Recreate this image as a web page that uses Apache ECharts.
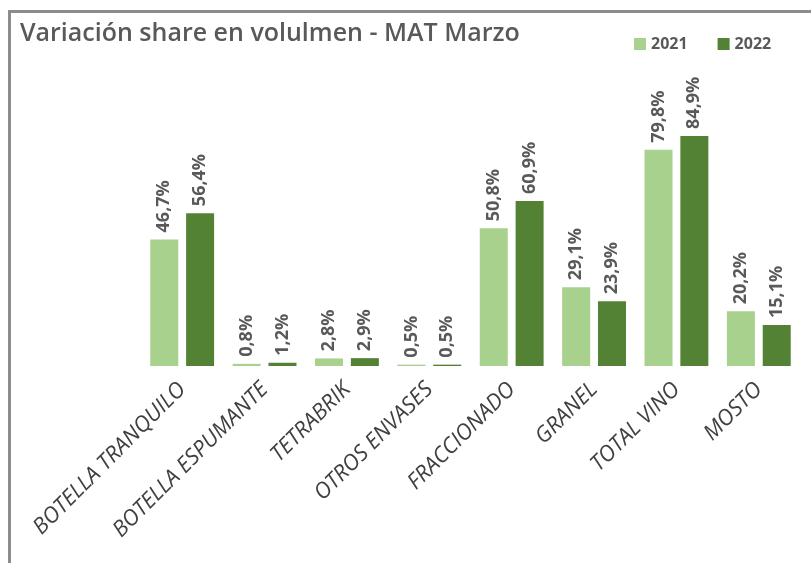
<!DOCTYPE html>
<html>

<head>
    <meta charset="utf-8">
    <title>ECharts</title>
    <script src="https://cdn.jsdelivr.net/npm/echarts@6/dist/echarts.min.js"></script>
    <style>
        body { margin: 0; background: #fff; }
        #frame {
            position: absolute; left: 8px; top: 10px; width: 803px; height: 553px;
            border-left: 3px solid #8c8c8c; border-top: 3px solid #8c8c8c;
        }
    </style>
</head>

<body>
    <div id="frame"></div>
    <div id="main" style="position:absolute;left:0;top:0;width: 811px;height:563px;"></div>
    <script type="text/javascript">
        // datos
        let categorias = ['BOTELLA TRANQUILO', 'BOTELLA ESPUMANTE', 'TETRABRIK', 'OTROS ENVASES',
            'FRACCIONADO', 'GRANEL', 'TOTAL VINO', 'MOSTO']
        let valores2021 = [46.7, 0.8, 2.8, 0.5, 50.8, 29.1, 79.8, 20.2]
        let valores2022 = [56.4, 1.2, 2.9, 0.5, 60.9, 23.9, 84.9, 15.1]

        let myChart = echarts.init(document.getElementById('main'));

        // etiqueta vertical con coma decimal
        let etiqueta = {
            show: true,
            position: 'top',
            rotate: 90,
            align: 'left',
            verticalAlign: 'middle',
            distance: 7,
            color: '#595959',
            fontFamily: 'Open Sans',
            fontWeight: 'bold',
            fontSize: 18,
            formatter: function (p) {
                return p.value.toFixed(1).replace('.', ',') + '%'
            }
        }

        let option = {
            animation: false,
            title: {
                text: 'Variación share en volulmen - MAT Marzo',
                left: 15,
                top: 16,
                textStyle: {
                    fontFamily: 'Open Sans',
                    fontSize: 25,
                    fontWeight: 600,
                    color: '#595959'
                }
            },
            legend: {
                data: ['2021', '2022'],
                left: 629,
                top: 31,
                itemWidth: 12,
                itemHeight: 12,
                itemGap: 30,
                icon: 'rect',
                textStyle: {
                    fontFamily: 'Open Sans',
                    fontWeight: 'bold',
                    fontSize: 16,
                    color: '#595959'
                }
            },
            grid: {
                left: 141,
                right: 11,
                top: 95,
                bottom: 197
            },
            xAxis: {
                type: 'category',
                data: categorias,
                axisLine: { show: false },
                axisTick: { show: false },
                axisLabel: {
                    interval: 0,
                    rotate: 45,
                    margin: 20,
                    color: '#404040',
                    fontFamily: 'Open Sans',
                    fontStyle: 'italic',
                    fontSize: 22
                }
            },
            yAxis: {
                type: 'value',
                min: 0,
                max: 100,
                show: false,
                splitLine: { show: false }
            },
            series: [
                {
                    name: '2021',
                    type: 'bar',
                    barWidth: 28,
                    barGap: '28%',
                    itemStyle: { color: '#a9d18e' },
                    label: etiqueta,
                    data: valores2021
                },
                {
                    name: '2022',
                    type: 'bar',
                    barWidth: 28,
                    itemStyle: { color: '#548235' },
                    label: etiqueta,
                    data: valores2022
                }
            ]
        };

        myChart.setOption(option);
    </script>
</body>

</html>
